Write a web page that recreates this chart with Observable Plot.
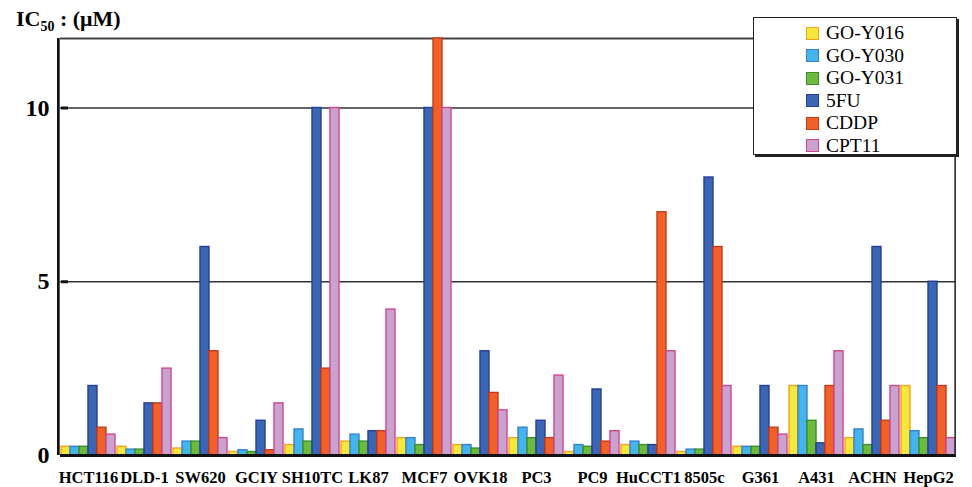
<!DOCTYPE html>
<html>
<head>
<meta charset="utf-8">
<script src="https://cdn.jsdelivr.net/npm/d3@7"></script>
<script src="https://cdn.jsdelivr.net/npm/@observablehq/plot@0.6"></script>
<style>
  html, body { margin: 0; padding: 0; background: #fff; }
  #wrap { position: relative; width: 972px; height: 487px; font-family: "Liberation Serif", "Times New Roman", serif; }
  #title { position: absolute; left: 16px; top: 6px; font-size: 22px; font-weight: bold; color: #000; white-space: nowrap; }
  #title sub { font-size: 14px; }
  #legend { position: absolute; left: 753px; top: 17px; width: 202px; height: 136px; background: #fff;
            border: 1.5px solid #222; box-shadow: 2px 2px 0 #222; box-sizing: content-box; }
  .item { position: absolute; left: 52px; height: 20px; line-height: 20px; display: flex; align-items: center;
          font-size: 19.5px; color: #000; white-space: nowrap; }
  .sw { width: 11px; height: 11px; border: 1.5px solid; margin-right: 7px; }
</style>
</head>
<body>
<div id="wrap">
  <div id="chart"></div>
  <div id="title">IC<sub>50</sub> : (μM)</div>
  <div id="legend"></div>
</div>
<script>
// Cell lines along the x axis
const cells = ["HCT116", "DLD-1", "SW620", "GCIY", "SH10TC", "LK87", "MCF7", "OVK18",
               "PC3", "PC9", "HuCCT1", "8505c", "G361", "A431", "ACHN", "HepG2"];

// Compounds (one bar each per cell line)
const series = ["GO-Y016", "GO-Y030", "GO-Y031", "5FU", "CDDP", "CPT11"];

// IC50 values (μM), one array per compound, in cell-line order
const goY016 = [0.25, 0.25, 0.2, 0.1, 0.3, 0.4, 0.5, 0.3, 0.5, 0.1, 0.3, 0.1, 0.25, 2, 0.5, 2];
const goY030 = [0.25, 0.17, 0.4, 0.15, 0.75, 0.6, 0.5, 0.3, 0.8, 0.3, 0.4, 0.17, 0.25, 2, 0.75, 0.7];
const goY031 = [0.25, 0.17, 0.4, 0.1, 0.4, 0.4, 0.3, 0.2, 0.5, 0.25, 0.3, 0.17, 0.25, 1, 0.3, 0.5];
const fu5    = [2, 1.5, 6, 1, 10, 0.7, 10, 3, 1, 1.9, 0.3, 8, 2, 0.35, 6, 5];
const cddp   = [0.8, 1.5, 3, 0.15, 2.5, 0.7, 12, 1.8, 0.5, 0.4, 7, 6, 0.8, 2, 1, 2];
const cpt11  = [0.6, 2.5, 0.5, 1.5, 10, 4.2, 10, 1.3, 2.3, 0.7, 3, 2, 0.6, 3, 2, 0.5];

const yTicks = [0, 5, 10];

// Fill and outline colours per compound
const fills   = ["#f4e83a", "#46b4ea", "#6cbb3e", "#3a66b4", "#f06128", "#c9a2d0"];
const strokes = ["#f5a021", "#3580d2", "#3b8f2b", "#243f96", "#c43a1d", "#d1468b"];

const valueArrays = [goY016, goY030, goY031, fu5, cddp, cpt11];
const rows = [];
series.forEach((s, si) => cells.forEach((c, ci) => rows.push({cell: c, series: s, value: valueArrays[si][ci]})));

const W = 972, H = 487;
const mL = 57, mR = 14, mT = 38, mB = 32;
const facetW = (W - mL - mR) / cells.length;
const serif = "Liberation Serif, Times New Roman, serif";

const bars = series.map((s, i) =>
  Plot.barY(rows.filter(d => d.series === s), {
    fx: "cell", x: "series", y: "value",
    fill: fills[i], stroke: strokes[i], strokeWidth: 1.4
  })
);

// short inward tick marks on the y axis, first facet only
const innerTicks = yTicks.filter(v => v > 0).map(v => ({cell: cells[0], series: series[0], v}));

const chart = Plot.plot({
  width: W, height: H,
  marginLeft: mL, marginRight: mR, marginTop: mT, marginBottom: mB,
  style: {background: "#fff", color: "#000"},
  fx: {domain: cells, padding: 0, label: null},
  x: {domain: series, paddingInner: 0, paddingOuter: 0.03, axis: null},
  y: {domain: [0, 12], label: null},
  marks: [
    Plot.ruleY([5, 10], {stroke: "#333", strokeWidth: 1.5}),
    Plot.ruleY([12], {stroke: "#444", strokeWidth: 2}),
    ...bars,
    Plot.ruleY([0], {stroke: "#111", strokeWidth: 3}),
    Plot.tickY(innerTicks, {fx: "cell", x: "series", y: "v", stroke: "#111", strokeWidth: 3, insetRight: 2}),
    // left axis line (first facet only) and right border (last facet only)
    Plot.rect([cells[0]], {fx: d => d, fill: "#111", insetRight: facetW - 3, dx: -3}),
    Plot.rect([cells[cells.length - 1]], {fx: d => d, fill: "#333", insetLeft: facetW - 2}),
    Plot.axisY({ticks: yTicks, tickSize: 0, tickPadding: 11, fontSize: 24, fontWeight: "bold",
                fontFamily: serif, label: null}),
    Plot.axisFx({anchor: "bottom", tickSize: 0, tickPadding: 16, fontSize: 16.5, fontWeight: "bold",
                 fontFamily: serif, label: null})
  ]
});
document.getElementById("chart").appendChild(chart);

// Legend entries
const legend = document.getElementById("legend");
series.forEach((s, i) => {
  const item = document.createElement("div");
  item.className = "item";
  item.style.top = (5 + i * 22.5) + "px";
  const sw = document.createElement("span");
  sw.className = "sw";
  sw.style.background = fills[i];
  sw.style.borderColor = strokes[i];
  item.appendChild(sw);
  item.appendChild(document.createTextNode(s));
  legend.appendChild(item);
});
</script>
</body>
</html>
